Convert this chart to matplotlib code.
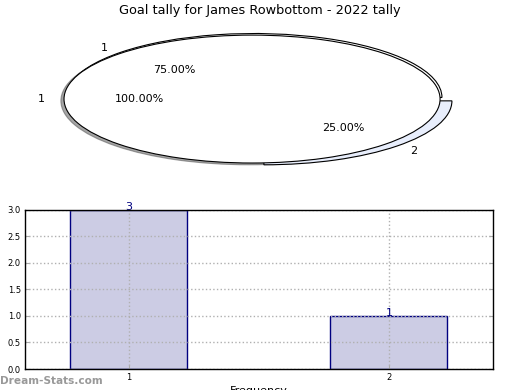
import matplotlib
matplotlib.use('Agg')
import matplotlib.pyplot as plt

TITLE = 'Goal tally for James Rowbottom - 2022 tally'

# pie data
total_vals = [1]
total_labels = ['1']
split_vals = [3, 1]
split_labels = ['1', '2']

# bar data
bar_x = [1, 2]
bar_vals = [3, 1]
y_ticks = [0.0, 0.5, 1.0, 1.5, 2.0, 2.5, 3.0]

fig = plt.figure(figsize=(5.2, 3.9), dpi=100)
fig.text(0.5, 0.973, TITLE, ha='center', va='center', fontsize=9.3)

# top pie, stretched into an ellipse; split pie first, full pie drawn over it
ax1 = fig.add_axes([0.0327, 0.541, 0.904, 0.410])
w2, t2, p2 = ax1.pie(split_vals, labels=split_labels, autopct='%.2f%%',
                     explode=(0.0, 0.075), center=(0.01, 0.025),
                     colors=['white', '#e8eefc'], startangle=0,
                     wedgeprops=dict(edgecolor='black', linewidth=0.8),
                     textprops=dict(fontsize=8))
w1, t1, p1 = ax1.pie(total_vals, labels=total_labels, autopct='%.2f%%',
                     shadow=dict(ox=-0.012, oy=-0.02),
                     colors=['white'], startangle=0,
                     wedgeprops=dict(edgecolor='black', linewidth=0.8),
                     textprops=dict(fontsize=8))
ax1.set_aspect('auto')
ax1.set_xlim(-1.25, 1.25)
ax1.set_ylim(-1.25, 1.25)
ax1.axis('off')

# bottom bar chart
ax2 = fig.add_axes([0.048, 0.0538, 0.9, 0.408])
ax2.bar(bar_x, bar_vals, width=0.45, color='#ccccE4', edgecolor='#000080',
        linewidth=1.0, zorder=2)
for x, v in zip(bar_x, bar_vals):
    ax2.text(x, v, str(v), ha='center', va='baseline', color='#000080', fontsize=8,
             zorder=4)
ax2.set_xlim(0.6, 2.4)
ax2.set_ylim(0, 3)
ax2.set_xticks(bar_x)
ax2.set_yticks(y_ticks)
ax2.set_yticklabels(['%.1f' % t for t in y_ticks])
ax2.tick_params(axis='both', direction='in', length=3, color='#aaaaaa',
                labelsize=6, right=True, top=False, pad=3)
ax2.grid(True, linestyle=':', color='#b0b0b0', linewidth=1.0, zorder=3)
ax2.set_axisbelow(False)
for s in ax2.spines.values():
    s.set_linewidth(1.0)
    s.set_zorder(5)
ax2.set_ylabel('Stat Intervals', fontsize=8, labelpad=4)
ax2.set_xlabel('Frequency', fontsize=8, labelpad=3)

fig.text(0.0, 0.023, 'Dream-Stats.com', ha='left', va='center', fontsize=7.6,
         color='#999999', fontweight='semibold')

fig.savefig('out.png', dpi=100)
